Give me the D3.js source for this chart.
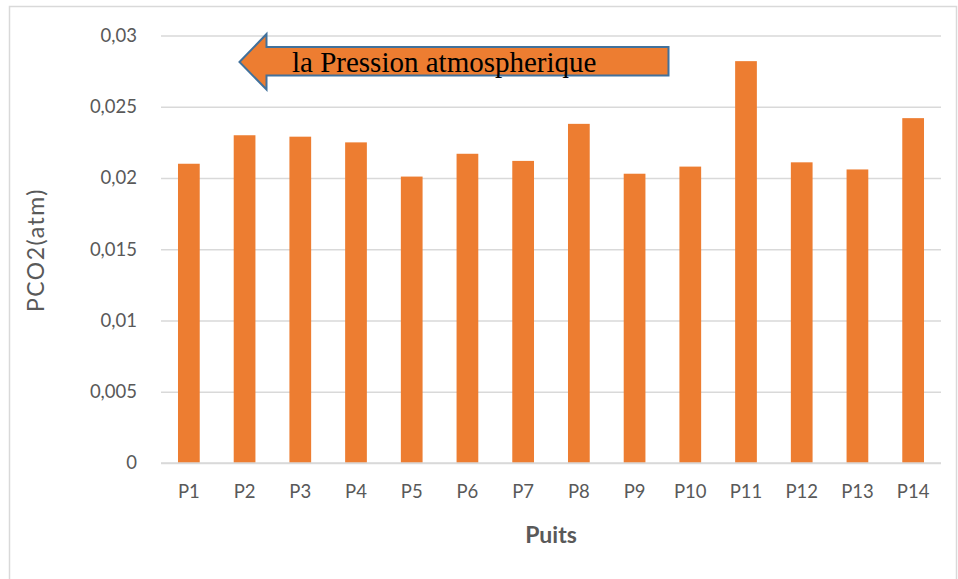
<!DOCTYPE html>
<html>
<head>
<meta charset="utf-8">
<script src="https://cdn.jsdelivr.net/npm/d3@7"></script>
<style>
  html, body { margin: 0; padding: 0; background: #fff; }
  svg { display: block; }
</style>
</head>
<body>
<svg id="chart" width="958" height="579"></svg>
<script>
const categories = ["P1","P2","P3","P4","P5","P6","P7","P8","P9","P10","P11","P12","P13","P14"];
const values = [0.0210, 0.0230, 0.0229, 0.0225, 0.0201, 0.0217, 0.0212, 0.0238, 0.0203, 0.0208, 0.0282, 0.0211, 0.0206, 0.0242];
const tickValues = [0, 0.005, 0.01, 0.015, 0.02, 0.025, 0.03];
const tickLabels = ["0", "0,005", "0,01", "0,015", "0,02", "0,025", "0,03"];
const yTitle = "PCO2(atm)";
const xTitle = "Puits";
const arrowText = "la Pression atmospherique";

const svg = d3.select("#chart");
const plotLeft = 161, plotRight = 941, plotTop = 35.5, plotBottom = 463;
const sansFont = "Lato, 'Open Sans', sans-serif";

// frame
svg.append("rect").attr("x", 9.5).attr("y", 6.5).attr("width", 947).attr("height", 590)
  .attr("fill", "none").attr("stroke", "#d9d9d9").attr("stroke-width", 1.5);

const x = d3.scaleBand().domain(categories).range([plotLeft, plotRight]).paddingInner(0.61).paddingOuter(0.305);
const y = d3.scaleLinear().domain([0, 0.03]).range([plotBottom, plotTop]);

// gridlines + y axis
const yAxis = d3.axisLeft(y).tickValues(tickValues)
  .tickSize(-(plotRight - plotLeft)).tickPadding(24)
  .tickFormat((d, i) => tickLabels[i]);
const gy = svg.append("g").attr("transform", `translate(${plotLeft},0)`).call(yAxis);
gy.select(".domain").remove();
gy.selectAll(".tick line").attr("stroke", "#d9d9d9").attr("stroke-width", 1.3);
gy.selectAll(".tick text").attr("fill", "#595959").attr("font-family", sansFont).attr("font-size", 18.5);

// bars
svg.append("g").selectAll("rect").data(values).join("rect")
  .attr("x", (d, i) => x(categories[i]))
  .attr("y", d => y(d))
  .attr("width", x.bandwidth())
  .attr("height", d => y(0) - y(d))
  .attr("fill", "#ED7D31");

// baseline
svg.append("line").attr("x1", plotLeft).attr("x2", plotRight).attr("y1", plotBottom).attr("y2", plotBottom)
  .attr("stroke", "#d9d9d9").attr("stroke-width", 1.3);

// x axis labels
const xAxis = d3.axisBottom(x).tickSize(0).tickPadding(22);
const gx = svg.append("g").attr("transform", `translate(0,${plotBottom})`).call(xAxis);
gx.select(".domain").remove();
gx.selectAll(".tick text").attr("fill", "#595959").attr("font-family", sansFont).attr("font-size", 18.5);

// axis titles
svg.append("text").attr("x", (plotLeft + plotRight) / 2).attr("y", 543)
  .attr("text-anchor", "middle").attr("fill", "#595959")
  .attr("font-family", sansFont).attr("font-size", 23).attr("font-weight", "bold")
  .text(xTitle);
svg.append("text").attr("transform", "translate(44,250) rotate(-90)")
  .attr("text-anchor", "middle").attr("fill", "#595959")
  .attr("font-family", sansFont).attr("font-size", 23).attr("letter-spacing", 1.5)
  .text(yTitle);

// arrow annotation
const tipX = 239.5, tipY = 62, headX = 266.5, headTop = 34, headBot = 89.5, bodyTop = 47, bodyBot = 75.5, bodyRight = 668.5;
const arrowPath = d3.path();
arrowPath.moveTo(tipX, tipY);
arrowPath.lineTo(headX, headTop);
arrowPath.lineTo(headX, bodyTop);
arrowPath.lineTo(bodyRight, bodyTop);
arrowPath.lineTo(bodyRight, bodyBot);
arrowPath.lineTo(headX, bodyBot);
arrowPath.lineTo(headX, headBot);
arrowPath.closePath();
svg.append("path").attr("d", arrowPath.toString())
  .attr("fill", "#ED7D31").attr("stroke", "#41719C").attr("stroke-width", 2).attr("stroke-linejoin", "miter");
svg.append("text").attr("x", 292).attr("y", 71.5)
  .attr("fill", "#000").attr("font-family", "'Liberation Serif', 'Times New Roman', serif").attr("font-size", 29)
  .text(arrowText);
</script>
</body>
</html>
